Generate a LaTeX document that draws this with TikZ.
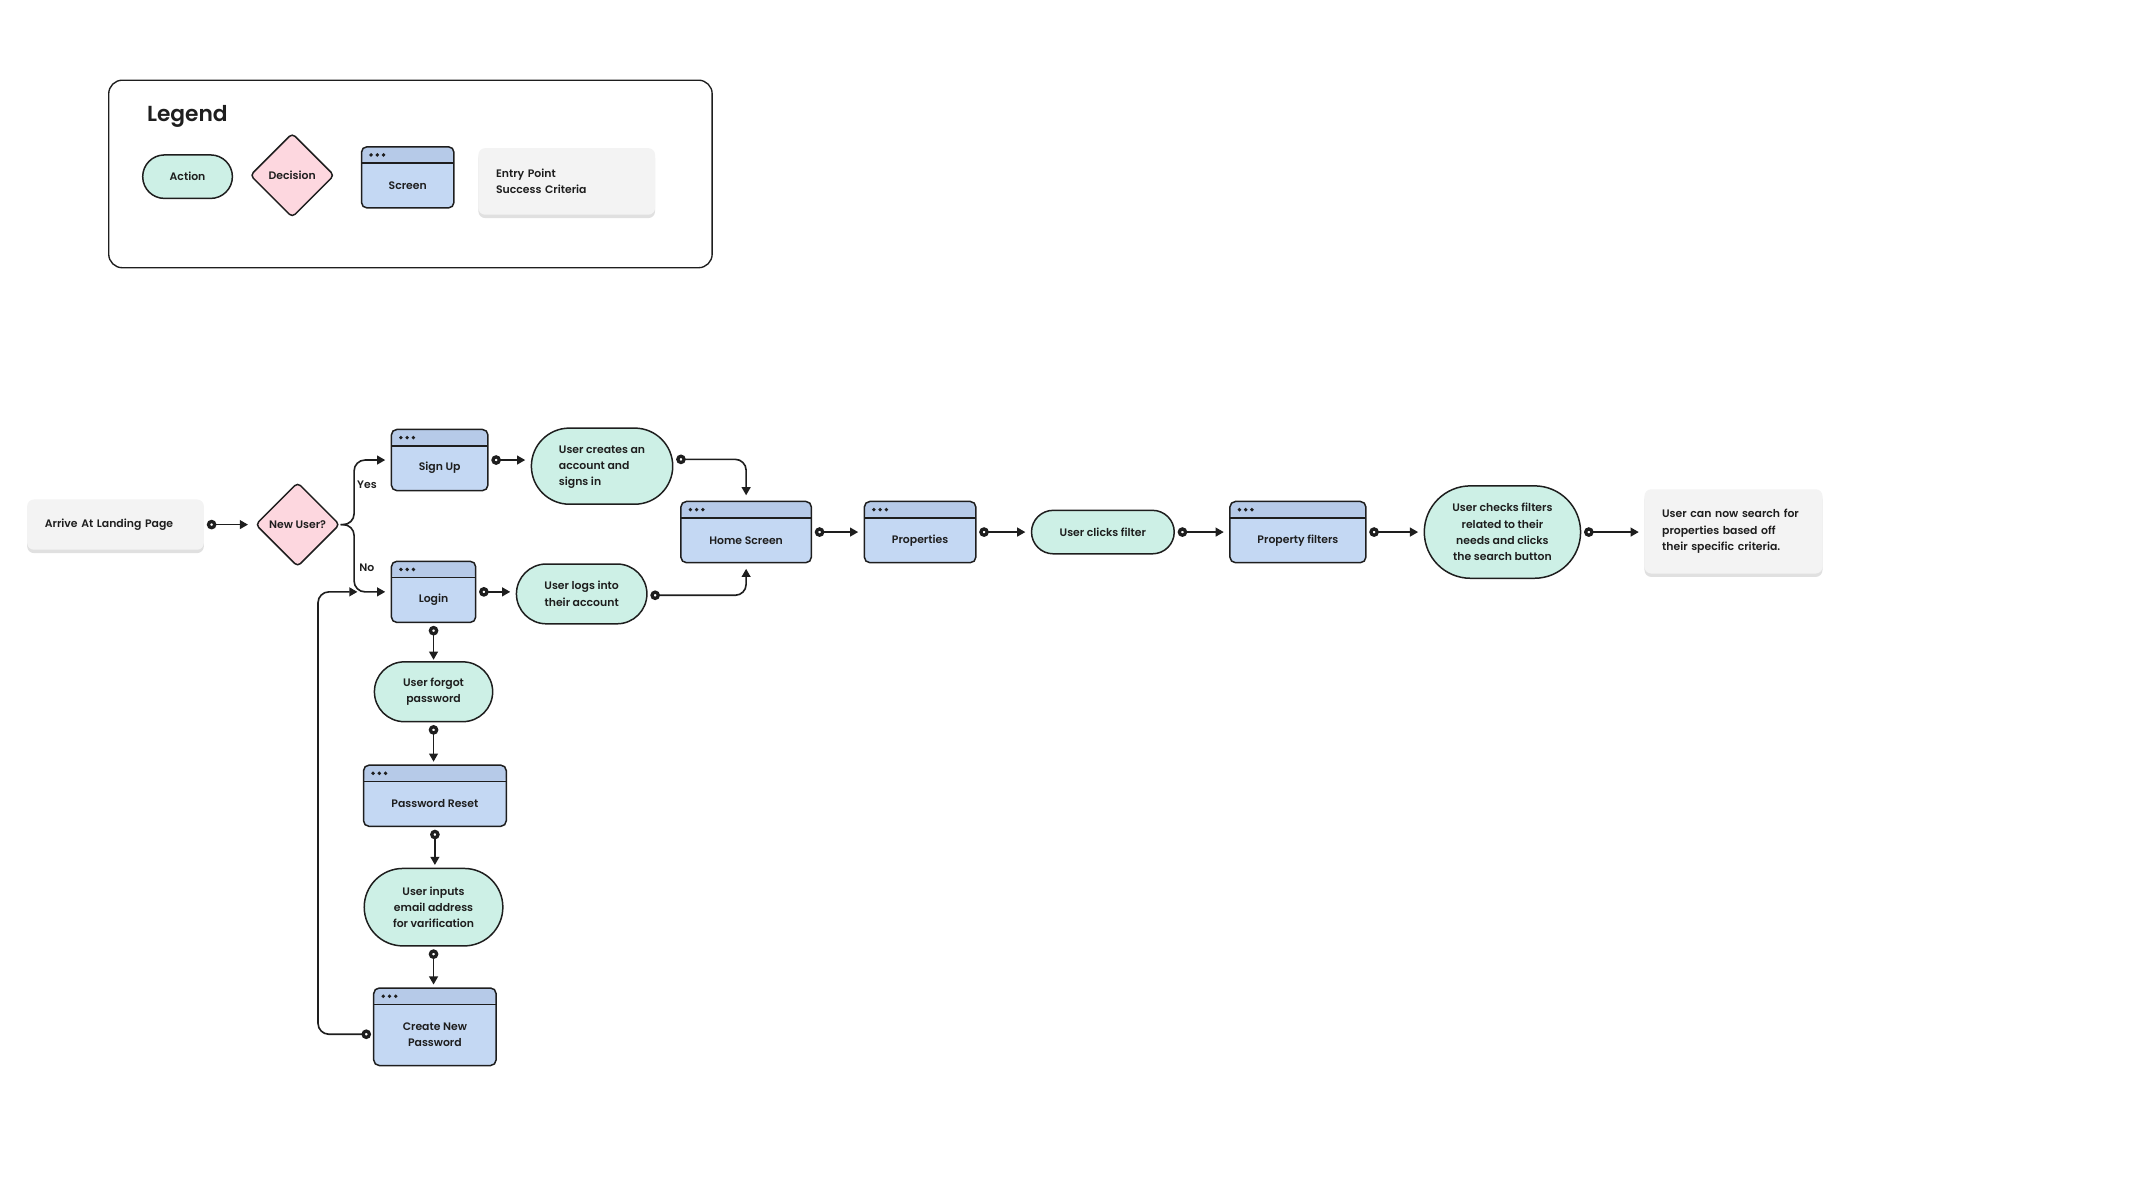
\documentclass[tikz,border=0pt]{standalone}
\usepackage{fontspec}
\setmainfont{Poppins SemiBold}
\usetikzlibrary{arrows.meta,shapes.geometric,shapes.misc,shadows,calc}
\definecolor{ink}{HTML}{1E1E1E}
\definecolor{mint}{HTML}{CDF0E6}
\definecolor{pinkd}{HTML}{FDD7DF}
\definecolor{scrbody}{HTML}{C4D8F3}
\definecolor{scrhead}{HTML}{B6CAE8}
\definecolor{grayb}{HTML}{F3F3F3}
\tikzset{
  action/.style={rounded rectangle, draw=ink, line width=1.1pt, fill=mint, inner sep=0pt, align=center},
  decision/.style={diamond, draw=ink, line width=1.1pt, fill=pinkd, rounded corners=3pt, inner sep=0pt, align=center},
  screen/.style={draw=ink, line width=1.1pt, fill=scrbody, rounded corners=4pt, inner sep=0pt,
    path picture={
      \fill[scrhead] (path picture bounding box.north west) rectangle ([yshift=-12pt]path picture bounding box.north east);
      \draw[ink, line width=1.1pt] ([yshift=-12pt]path picture bounding box.north west) -- ([yshift=-12pt]path picture bounding box.north east);
      \foreach \i in {0,1,2} \fill[ink] ([xshift=7pt+\i*4.6pt, yshift=-6pt]path picture bounding box.north west) circle (1.4pt);
    }},
  scrtext/.style={inner sep=0pt, align=center},
  entry/.style={fill=grayb, rounded corners=5pt, inner ysep=0pt, inner xsep=13pt, align=left,
    drop shadow={shadow xshift=0pt, shadow yshift=-2.5pt, opacity=0.2, fill=black!60}},
  conn/.style={draw=ink, line width=1.2pt, rounded corners=8pt,
    {Circle[open,fill=white,length=7pt,width=7pt,line width=2.4pt]}-{Triangle[length=6pt,width=6.5pt]},
    shorten <=2pt, shorten >=4pt},
  connplain/.style={draw=ink, line width=1.2pt, rounded corners=8pt,
    -{Triangle[length=6pt,width=6.5pt]}, shorten >=4pt},
  lbl/.style={inner sep=0pt}
}
\newcommand\screennode[6]{%
  \node[screen, minimum width=#4pt, minimum height=#5pt] (#1) at (#2,#3) {};
  \node[scrtext] (#1-t) at ([yshift=-6pt]#1.center) {#6};}
\begin{document}
\begin{tikzpicture}[x=1pt,y=-1pt,font=\fontsize{8}{12}\selectfont, text=ink]
\useasboundingbox (0,0) rectangle (1568,882.3);
% Legend
\node[draw=ink, line width=1pt, rounded corners=10pt, minimum width=444pt, minimum height=138pt, inner sep=0pt] (legframe) at (302,128) {};
\node[lbl, anchor=west, font=\fontsize{16}{18}\selectfont] (legtitle) at (108,86) {Legend};
\node[action, minimum width=66pt, minimum height=32pt] (legaction) at (138,130) {Action};
\node[decision, minimum width=62pt, minimum height=62pt] (legdecision) at (215,129) {Decision};
\screennode{legscreen}{300}{130.5}{68}{45}{Screen}
\node[entry, text width=104pt, minimum height=49pt] (legentry) at (417,133.5) {Entry Point\\Success Criteria};
% Main flow
\node[entry, text width=104pt, minimum height=37pt] (arrive) at (85,386) {Arrive At Landing Page};
\node[decision, minimum width=62pt, minimum height=62pt] (newuser) at (219,386) {New User?};
\screennode{signup}{323.5}{338.5}{71}{45}{Sign Up}
\node[action, minimum width=104pt, minimum height=56pt] (create) at (443,343) {\begin{tabular}{@{}l@{}}User creates an\\account and\\signs in\end{tabular}};
\screennode{login}{319}{435.5}{62}{45}{Login}
\node[action, minimum width=96pt, minimum height=44pt] (logs) at (428,437) {User logs into\\their account};
\screennode{home}{549}{391.5}{96}{45}{Home Screen}
\screennode{props}{677}{391.5}{82}{45}{Properties}
\node[action, minimum width=105pt, minimum height=32pt] (clicks) at (811.5,391.5) {User clicks filter};
\screennode{pfilters}{955}{391.5}{100}{45}{Property filters}
\node[action, minimum width=115pt, minimum height=68pt] (checks) at (1105.5,391.5) {User checks filters\\related to their\\needs and clicks\\the search button};
\node[entry, text width=105pt, minimum height=62pt] (final) at (1275.5,391) {User can now search for\\properties based off\\their specific criteria.};
\node[action, minimum width=87pt, minimum height=44pt] (forgot) at (319,509) {User forgot\\password};
\screennode{preset}{320}{585.5}{105}{45}{Password Reset}
\node[action, minimum width=102pt, minimum height=57pt] (inputs) at (319,667.5) {User inputs\\email address\\for varification};
\screennode{createpw}{320}{755.5}{90}{57}{Create New\\Password}
\node[lbl] (yes) at (270,357) {Yes};
\node[lbl] (no) at (270,418) {No};
\coordinate (loopend) at (263,435.5);
\coordinate (loopstart) at (275,761);
\coordinate (loopleft) at (234,0);
% Connectors
\draw[conn, shorten >=5pt] (arrive.east) -- (arrive.east -| newuser.west);
\draw[connplain] (newuser.east) -- ++(10,0) |- (signup.west);
\draw[connplain] (newuser.east) -- ++(10,0) |- (login.west);
\draw[conn] (signup.east) -- (signup.east -| create.west);
\draw[conn] ([yshift=5pt]create.east) -| (home.north);
\draw[conn] (login.east) -- (login.east -| logs.west);
\draw[conn] ([yshift=-1pt]logs.east) -| (home.south);
\draw[conn] (home.east) -- (props.west);
\draw[conn] (props.east) -- (props.east -| clicks.west);
\draw[conn] (clicks.east) -- (clicks.east -| pfilters.west);
\draw[conn] (pfilters.east) -- (pfilters.east -| checks.west);
\draw[conn] (checks.east) -- (checks.east -| final.west);
\draw[conn, shorten >=1pt] (login.south) -- (login.south |- forgot.north);
\draw[conn, shorten >=2pt] (forgot.south) -- (forgot.south |- preset.north);
\draw[conn, shorten >=2pt] (preset.south) -- (preset.south |- inputs.north);
\draw[conn, shorten >=2pt] (inputs.south) -- (inputs.south |- createpw.north);
\draw[conn, shorten >=0pt] (loopstart) -- (loopleft |- loopstart) -- (loopleft |- loopend) -- (loopend);
\end{tikzpicture}
\end{document}
